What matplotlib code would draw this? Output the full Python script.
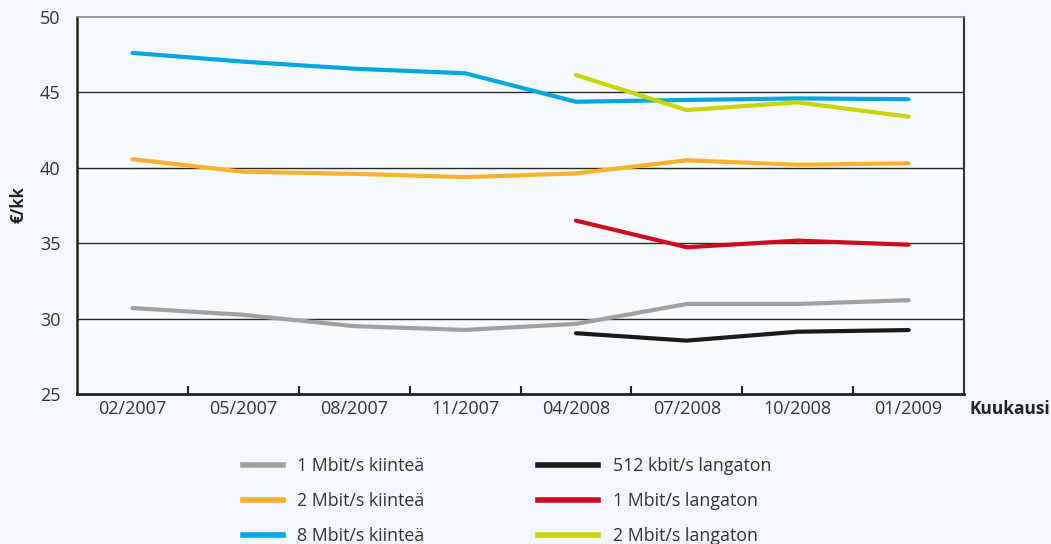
import matplotlib
matplotlib.use("Agg")
import matplotlib.pyplot as plt
import numpy as np
from matplotlib.lines import Line2D

plt.rcParams['font.family'] = ['Open Sans', 'DejaVu Sans']

months = ["02/2007", "05/2007", "08/2007", "11/2007", "04/2008", "07/2008", "10/2008", "01/2009"]

fixed_1m = [30.7, 30.25, 29.5, 29.25, 29.65, 30.97, 30.97, 31.22]
fixed_2m = [40.57, 39.74, 39.6, 39.38, 39.63, 40.5, 40.2, 40.3]
fixed_8m = [47.62, 47.04, 46.57, 46.27, 44.38, 44.5, 44.6, 44.55]
wl_512k = [None, None, None, None, 29.03, 28.54, 29.13, 29.24]
wl_1m = [None, None, None, None, 36.5, 34.73, 35.17, 34.9]
wl_2m = [None, None, None, None, 46.15, 43.83, 44.34, 43.39]

labels_left = ["1 Mbit/s kiinteä", "2 Mbit/s kiinteä", "8 Mbit/s kiinteä"]
labels_right = ["512 kbit/s langaton", "1 Mbit/s langaton", "2 Mbit/s langaton"]
colors_left = ["#a0a0a0", "#fbb12b", "#00a8e1"]
colors_right = ["#1a1a1a", "#d20a20", "#c9d400"]

fig = plt.figure(figsize=(10.51, 5.44), dpi=100)
fig.patch.set_facecolor("#f1f7fc")
ax = fig.add_axes([77/1051, 1-394/544, (964-77)/1051, (394-17)/544])
ax.set_facecolor("#f6fafd")

x = np.arange(len(months))

def plot_series(vals, color):
    xs = [xi for xi, v in zip(x, vals) if v is not None]
    ys = [v for v in vals if v is not None]
    ax.plot(xs, ys, color=color, lw=3, solid_capstyle='round', solid_joinstyle='round', zorder=3)

for vals, c in zip([fixed_1m, fixed_2m, fixed_8m], colors_left):
    plot_series(vals, c)
for vals, c in zip([wl_512k, wl_1m, wl_2m], colors_right):
    plot_series(vals, c)

ax.set_xlim(-0.5, len(months) - 0.5)
ax.set_ylim(25, 50)
ax.set_yticks([25, 30, 35, 40, 45, 50])
for yv in [30, 35, 40, 45]:
    ax.axhline(yv, color="#2a2a2a", lw=1.0, zorder=1)

ax.set_xticks(x)
ax.set_xticklabels(months, fontsize=13, color="#333333")
ax.set_xticks(np.arange(0.5, len(months) - 1, 1), minor=True)
ax.tick_params(axis='x', which='major', length=0, pad=4)
ax.tick_params(axis='x', which='minor', direction='in', length=6, width=1.5, color="#222222")
ax.tick_params(axis='y', length=0, labelsize=13, colors="#333333", pad=12)

ax.spines['top'].set_color("#888888")
ax.spines['top'].set_linewidth(1.2)
ax.spines['right'].set_color("#333333")
ax.spines['right'].set_linewidth(1.5)
ax.spines['left'].set_color("#222222")
ax.spines['left'].set_linewidth(1.8)
ax.spines['bottom'].set_color("#222222")
ax.spines['bottom'].set_linewidth(2)

fig.text(18/1051, 1-205/544, "€/kk", rotation=90, fontsize=12, fontweight='bold',
         ha='center', va='center', color="#222222")
fig.text(1010/1051, 1-409/544, "Kuukausi", fontsize=12.5, fontweight='bold',
         ha='center', va='center', color="#222222")

h_left = [Line2D([], [], color=c, lw=4) for c in colors_left]
h_right = [Line2D([], [], color=c, lw=4) for c in colors_right]
leg1 = fig.legend(h_left, labels_left, loc='upper left', bbox_to_anchor=(227/1051, 1-441/544),
                  frameon=False, fontsize=12.8, handlelength=2.25, handletextpad=0.8,
                  labelspacing=0.95, labelcolor="#333333")
leg2 = fig.legend(h_right, labels_right, loc='upper left', bbox_to_anchor=(522/1051, 1-441/544),
                  frameon=False, fontsize=12.8, handlelength=3.4, handletextpad=0.8,
                  labelspacing=0.95, labelcolor="#333333")

fig.savefig("out.png", dpi=100, facecolor=fig.get_facecolor())
